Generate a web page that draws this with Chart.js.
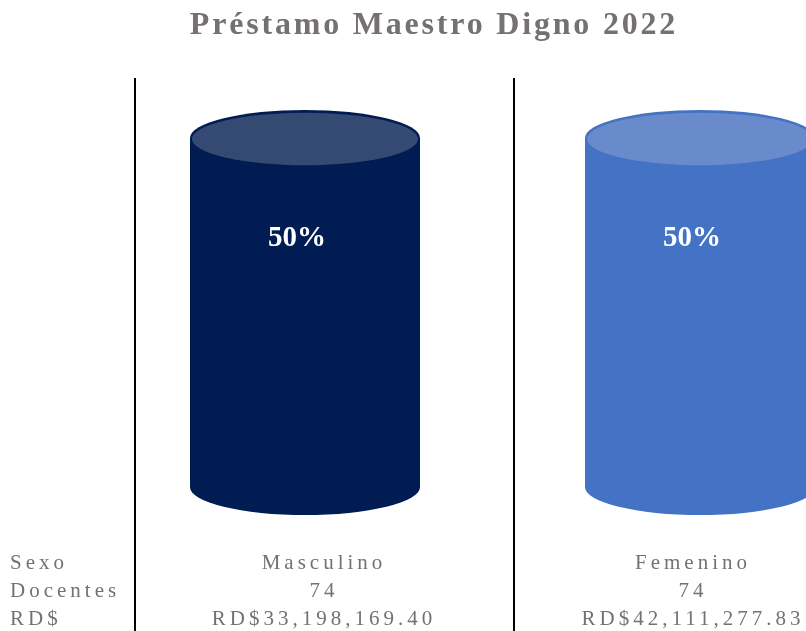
<!DOCTYPE html>
<html>
<head>
<meta charset="utf-8">
<script src="https://cdn.jsdelivr.net/npm/chart.js@4/dist/chart.umd.min.js"></script>
<style>
  html, body { margin: 0; padding: 0; overflow: hidden; background: #ffffff; width: 806px; height: 631px; }
  #wrap { width: 806px; height: 631px; overflow: hidden; position: relative; }
  canvas { display: block; }
</style>
</head>
<body>
<div id="wrap"><canvas id="c" width="900" height="631"></canvas></div>
<script>
const chartTitle = 'Préstamo Maestro Digno 2022';
const categories = ['Masculino', 'Femenino'];
const percentages = [50, 50];
const docentes = ['74', '74'];
const montos = ['RD$33,198,169.40', 'RD$42,111,277.83'];
const rowHeaders = ['Sexo', 'Docentes', 'RD$'];
const bodyColors = ['#001C52', '#4472C4'];
const topColors = ['#354A73', '#6A8BCB'];

const textGrey = '#767171';

const cylinderPlugin = {
  id: 'cylinders',
  afterDatasetsDraw(chart) {
    const ctx = chart.ctx;
    const meta = chart.getDatasetMeta(0);
    meta.data.forEach((bar, i) => {
      const p = bar.getProps(['x', 'y', 'base', 'width'], true);
      const rx = p.width / 2;
      const ry = p.width * 0.122;
      const left = p.x - rx;
      ctx.save();
      ctx.fillStyle = bodyColors[i];
      ctx.beginPath();
      ctx.moveTo(left, p.y);
      ctx.lineTo(left, p.base);
      ctx.ellipse(p.x, p.base, rx, ry, 0, Math.PI, 0, true);
      ctx.lineTo(p.x + rx, p.y);
      ctx.closePath();
      ctx.fill();
      ctx.beginPath();
      ctx.ellipse(p.x, p.y, rx, ry, 0, 0, Math.PI * 2);
      ctx.fill();
      ctx.fillStyle = topColors[i];
      ctx.beginPath();
      ctx.ellipse(p.x, p.y + 1, rx - 2, ry - 1.8, 0, 0, Math.PI * 2);
      ctx.fill();
      ctx.fillStyle = '#ffffff';
      ctx.font = 'bold 29px "Liberation Serif", "Times New Roman", serif';
      ctx.textAlign = 'center';
      ctx.textBaseline = 'alphabetic';
      ctx.fillText(percentages[i] + '%', p.x - 8, p.y + 108);
      ctx.restore();
    });
  },
  afterDraw(chart) {
    const ctx = chart.ctx;
    ctx.save();
    ctx.fillStyle = textGrey;
    ctx.font = 'bold 32px "Liberation Serif", "Times New Roman", serif';
    ctx.letterSpacing = '2.8px';
    ctx.textAlign = 'center';
    ctx.textBaseline = 'alphabetic';
    ctx.fillText(chartTitle, 434, 34);

    ctx.strokeStyle = '#000000';
    ctx.lineWidth = 2;
    [135, 514].forEach(x => {
      ctx.beginPath();
      ctx.moveTo(x, 78);
      ctx.lineTo(x, 631);
      ctx.stroke();
    });

    ctx.font = '21px "Liberation Serif", "Times New Roman", serif';
    ctx.letterSpacing = '4px';
    const baselines = [569, 597, 625];
    ctx.textAlign = 'left';
    rowHeaders.forEach((h, r) => ctx.fillText(h, 10, baselines[r]));
    ctx.textAlign = 'center';
    const colCenters = [324, 693];
    categories.forEach((c, i) => {
      ctx.fillText(c, colCenters[i], baselines[0]);
      ctx.fillText(docentes[i], colCenters[i], baselines[1]);
      ctx.fillText(montos[i], colCenters[i], baselines[2]);
    });
    ctx.restore();
  }
};

new Chart(document.getElementById('c'), {
  type: 'bar',
  data: {
    labels: categories,
    datasets: [{
      label: 'Porcentaje',
      data: percentages,
      backgroundColor: 'rgba(0,0,0,0)',
      borderWidth: 0,
      barPercentage: 0.5823,
      categoryPercentage: 1
    }]
  },
  options: {
    responsive: false,
    animation: false,
    devicePixelRatio: 1,
    layout: { padding: { left: 107.5, right: 2.5, top: 138, bottom: 144 } },
    scales: {
      x: { display: false },
      y: { display: false, min: 0, max: 50 }
    },
    plugins: {
      legend: { display: false },
      title: { display: false },
      tooltip: { enabled: false }
    }
  },
  plugins: [cylinderPlugin]
});
</script>
</body>
</html>
